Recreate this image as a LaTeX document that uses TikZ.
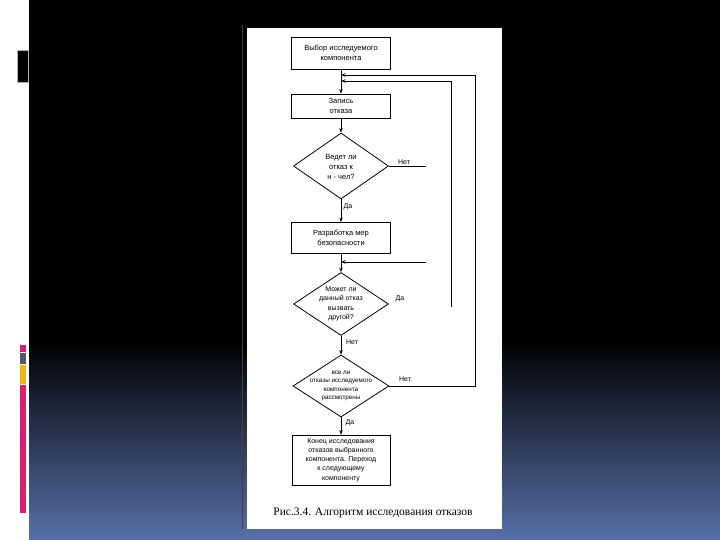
\documentclass[tikz,border=0pt]{standalone}
\usepackage{fontspec}
\setmainfont{Liberation Sans}
\newfontfamily\capfont{Liberation Serif}
\usetikzlibrary{shapes.geometric,arrows.meta}
\definecolor{slideblue}{RGB}{88,112,168}
\definecolor{barpink}{RGB}{220,30,110}
\definecolor{bargray}{RGB}{85,88,100}
\definecolor{baryellow}{RGB}{240,180,20}
\tikzset{
  fc/.style={line width=0.8pt, draw=black},
  boxnode/.style={fc, rectangle, minimum width=99pt, inner sep=0pt},
  dianode/.style={fc, diamond, inner sep=0pt},
  txt/.style={align=center, inner sep=0pt, font=\fontsize{7.5}{10}\selectfont},
  smalltxt/.style={align=center, inner sep=0pt, font=\fontsize{6.3}{8.5}\selectfont},
  lbl/.style={inner sep=0pt, font=\fontsize{7}{8}\selectfont},
  arr/.style={line width=0.8pt, -{Stealth[length=4.5pt,width=3.5pt]}},
  ln/.style={line width=0.8pt}
}
\begin{document}
\begin{tikzpicture}[x=1pt,y=-1pt]
\useasboundingbox (0,0) rectangle (720,540);
% slide background
\fill[white] (0,0) rectangle (720,540);
\fill[black] (29,0) rectangle (720,540);
\shade[top color=black, bottom color=slideblue] (29,340) rectangle (720,540);
% left decorations
\filldraw[fill=black, draw=gray!60, line width=0.6pt] (17,50) rectangle (28,82);
\fill[barpink] (20,345) rectangle (26,352);
\fill[bargray] (20,353) rectangle (26,364);
\fill[baryellow] (20,365) rectangle (26,384);
\fill[barpink] (20,385) rectangle (26,513);
% page
\draw[gray!50!black, line width=0.5pt] (242,25) -- (242,529);
\fill[white] (247,28) rectangle (502,529);

% flowchart nodes
\node[boxnode, minimum height=32pt] (b1) at (341,53) {};
\node[txt] (t1) at (b1) {Выбор исследуемого\\компонента};
\node[boxnode, minimum height=24pt] (b2) at (341,106) {};
\node[txt] (t2) at (b2) {Запись\\отказа};
\node[dianode, minimum width=95pt, minimum height=66pt] (d1) at (341,166) {};
\node[txt] (t3) at (341,167) {Ведет ли\\отказ к\\н - чел?};
\node[boxnode, minimum height=31pt] (b3) at (341,238) {};
\node[txt] (t4) at (b3) {Разработка мер\\безопасности};
\node[dianode, minimum width=95pt, minimum height=63pt] (d2) at (341,304) {};
\node[txt, font=\fontsize{7}{9.5}\selectfont] (t5) at (341,304) {Может ли\\данный отказ\\вызвать\\другой?};
\node[dianode, minimum width=96pt, minimum height=62pt] (d3) at (341,386) {};
\node[smalltxt] (t6) at (341,386) {все ли\\отказы исследуемого\\компонента\\рассмотрены};
\node[boxnode, minimum width=98pt, minimum height=50pt] (b4) at (341,460) {};
\node[txt, font=\fontsize{7}{9.3}\selectfont] (t7) at (b4) {Конец исследования\\отказов выбранного\\компонента. Переход\\к следующему\\компоненту};

% labels
\node[lbl] (l1) at (404,162) {Нет};
\node[lbl] (l2) at (348,207) {Да};
\node[lbl] (l3) at (400,299) {Да};
\node[lbl] (l4) at (352,342) {Нет};
\node[lbl] (l5) at (405,379) {Нет};
\node[lbl] (l6) at (350,423) {Да};

% loop coordinates
\coordinate (j1) at (341,75);
\coordinate (j2) at (341,81);
\coordinate (j3) at (341,262);
\coordinate (o1) at (475,386);
\coordinate (o2) at (475,75);
\coordinate (i1) at (451,307);
\coordinate (i2) at (451,81);
\coordinate (f1) at (426,166);
\coordinate (f2) at (426,262);

% connectors
\draw[arr] (b1.south) -- (b2.north);
\draw[arr] (b2.south) -- (d1.north);
\draw[arr] (d1.south) -- (b3.north);
\draw[arr] (b3.south) -- (d2.north);
\draw[arr] (d2.south) -- (d3.north);
\draw[arr] (d3.south) -- (b4.north);
\draw[ln] (d1.east) -- (f1);
\draw[arr] (f2) -- (j3);
\draw[arr] (d3.east) -- (o1) -- (o2) -- (j1);
\draw[arr] (i1) -- (i2) -- (j2);

% caption
\node[inner sep=0pt, font=\capfont\fontsize{11.5}{13}\selectfont] (cap) at (373,513) {Рис.3.4. Алгоритм исследования отказов};
\end{tikzpicture}
\end{document}
